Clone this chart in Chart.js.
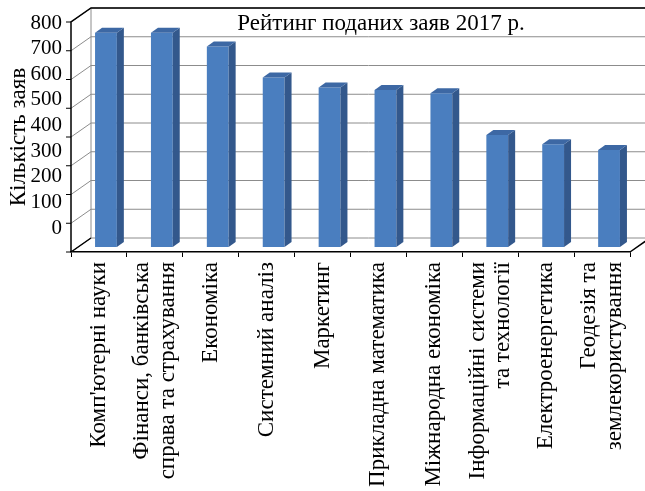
<!DOCTYPE html>
<html lang="uk">
<head>
<meta charset="utf-8">
<title>Рейтинг поданих заяв 2017 р.</title>
<script src="https://cdn.jsdelivr.net/npm/chart.js@4.4.1/dist/chart.umd.min.js"></script>
<style>
  html, body { margin: 0; padding: 0; background: #fff; }
  #wrap { width: 645px; height: 491px; }
</style>
</head>
<body>
<div id="wrap"><canvas id="ratingChart"></canvas></div>
<script>
// ===== DATA =====
const chartTitle = "Рейтинг поданих заяв 2017 р.";
const axisTitle = "Кількість заяв";

const specialties = [
  "Комп'ютерні науки",
  ["Фінанси, банківська", "справа та страхування"],
  "Економіка",
  "Системний аналіз",
  "Маркетинг",
  "Прикладна математика",
  "Міжнародна економіка",
  ["Інформаційні системи", "та технології"],
  "Електроенергетика",
  ["Геодезія та", "землекористування"]
];

const applicationCounts = [745, 745, 697, 590, 555, 546, 535, 390, 357, 337];

const countTicks = [0, 100, 200, 300, 400, 500, 600, 700, 800];

// ===== 3D LOOK =====
const WALL_DX = 20, WALL_DY = -14;  // back wall offset from the front plane
const BAR_DX = 7, BAR_DY = -5;      // column depth, also its gap from the front
const FRONT_COLOR = "#4a7ebf";
const SIDE_COLOR = "#33588c";
const TOP_COLOR = "#3d68a4";
const GRID_COLOR = "#8c8c8c";
const SERIF = "'Liberation Serif', 'Times New Roman', serif";
const TITLE_X = 381, TITLE_Y = 30;
const LABEL_SIZE = 23, LABEL_LH = 1.1;
const LINE_H = LABEL_SIZE * LABEL_LH;

const isTwoLine = label => Array.isArray(label);

// walls, gridlines and the extruded faces of the columns
const depthFrame = {
  id: "depthFrame",
  beforeDatasetsDraw(chart) {
    const { ctx, chartArea: a, scales: { y } } = chart;
    const backL = a.left + WALL_DX;
    const backR = a.right + WALL_DX;

    ctx.save();
    ctx.lineWidth = 1;
    ctx.strokeStyle = GRID_COLOR;
    countTicks.forEach(v => {
      const py = y.getPixelForValue(v);
      ctx.beginPath();
      ctx.moveTo(a.left, py);
      ctx.lineTo(backL, py + WALL_DY);
      ctx.lineTo(backR, py + WALL_DY);
      ctx.stroke();
    });
    ctx.beginPath();
    ctx.moveTo(backL, a.top + WALL_DY);
    ctx.lineTo(backL, a.bottom + WALL_DY);
    ctx.stroke();

    // outer edges
    ctx.strokeStyle = "#000";
    ctx.lineWidth = 1.5;
    ctx.beginPath();
    ctx.moveTo(a.left, a.bottom);
    ctx.lineTo(a.left, a.top);
    ctx.lineTo(backL, a.top + WALL_DY);
    ctx.lineTo(backR, a.top + WALL_DY);
    ctx.moveTo(a.left, a.bottom);
    ctx.lineTo(backL, a.bottom + WALL_DY);
    ctx.moveTo(a.right, a.bottom);
    ctx.lineTo(backR, a.bottom + WALL_DY);
    ctx.stroke();

    // tick marks on the front value axis
    ctx.lineWidth = 1;
    countTicks.forEach(v => {
      const py = y.getPixelForValue(v);
      ctx.beginPath();
      ctx.moveTo(a.left - 5, py);
      ctx.lineTo(a.left, py);
      ctx.stroke();
    });

    ctx.fillStyle = "#000";
    ctx.font = `23px ${SERIF}`;
    ctx.textAlign = "center";
    ctx.textBaseline = "alphabetic";
    ctx.fillText(chartTitle, TITLE_X, TITLE_Y);
    ctx.restore();

    // columns stand part way into the depth
    ctx.save();
    ctx.translate(BAR_DX, BAR_DY);
  },
  afterDatasetsDraw(chart) {
    const ctx = chart.ctx;
    chart.getDatasetMeta(0).data.forEach(bar => {
      const { x, y, base, width } = bar.getProps(["x", "y", "base", "width"], true);
      const l = x - width / 2, r = x + width / 2;

      ctx.fillStyle = SIDE_COLOR;
      ctx.beginPath();
      ctx.moveTo(r, y);
      ctx.lineTo(r + BAR_DX, y + BAR_DY);
      ctx.lineTo(r + BAR_DX, base + BAR_DY);
      ctx.lineTo(r, base);
      ctx.closePath();
      ctx.fill();

      ctx.fillStyle = TOP_COLOR;
      ctx.beginPath();
      ctx.moveTo(l, y);
      ctx.lineTo(l + BAR_DX, y + BAR_DY);
      ctx.lineTo(r + BAR_DX, y + BAR_DY);
      ctx.lineTo(r, y);
      ctx.closePath();
      ctx.fill();
    });
    ctx.restore();
  }
};

const labelFont = { family: SERIF, size: LABEL_SIZE, lineHeight: LABEL_LH };

new Chart(document.getElementById("ratingChart"), {
  type: "bar",
  data: {
    labels: specialties,
    datasets: [{
      data: applicationCounts,
      backgroundColor: FRONT_COLOR,
      borderWidth: 0,
      barPercentage: 0.39,
      categoryPercentage: 1,
      xAxisID: "x",
      yAxisID: "y"
    }]
  },
  options: {
    responsive: true,
    maintainAspectRatio: false,
    animation: false,
    layout: { padding: { top: 22, right: 15, bottom: 0, left: 0 } },
    plugins: {
      legend: { display: false },
      tooltip: { enabled: false }
    },
    scales: {
      // two-line category names, centred on their column (zero-height box, unclipped)
      x2: {
        type: "category",
        position: "bottom",
        weight: 0,
        offset: true,
        grid: { display: false, drawTicks: false },
        border: { display: false },
        ticks: {
          autoSkip: false,
          minRotation: 90,
          maxRotation: 90,
          mirror: true,
          padding: -10,
          labelOffset: LINE_H / 2,
          color: "#000",
          font: labelFont,
          callback: (v, i) => isTwoLine(specialties[i]) ? specialties[i] : ""
        },
        afterFit: s => { s.height = 0; s.paddingLeft = 0; s.paddingRight = 0; }
      },
      // one-line category names, plus the floor edge and its ticks
      x: {
        weight: 1,
        offset: true,
        grid: { display: true, drawOnChartArea: false, drawTicks: true, tickLength: 5, color: "#000", offset: true },
        border: { display: true, color: "#000", width: 1.5 },
        ticks: {
          autoSkip: false,
          minRotation: 90,
          maxRotation: 90,
          padding: 5,
          color: "#000",
          font: labelFont,
          callback: (v, i) => isTwoLine(specialties[i]) ? "" : specialties[i]
        },
        afterFit: s => { s.height = 239; s.paddingLeft = 0; s.paddingRight = 0; }
      },
      y: {
        display: false,
        min: 0,
        max: 800
      },
      // value labels on the front edge, a little tighter than the walls
      yl: {
        position: "left",
        min: -93.7,
        max: 803.9,
        afterBuildTicks: s => { s.ticks = countTicks.map(v => ({ value: v })); },
        afterFit: s => { s.width = 71; s.paddingTop = 0; s.paddingBottom = 0; },
        grid: { display: false, drawTicks: false },
        border: { display: false },
        ticks: {
          color: "#000",
          font: { family: SERIF, size: 21 },
          padding: 9
        },
        title: {
          display: true,
          text: axisTitle,
          color: "#000",
          font: { family: SERIF, size: 23 },
          padding: { top: 5, bottom: 0 }
        }
      }
    }
  },
  plugins: [depthFrame]
});
</script>
</body>
</html>
